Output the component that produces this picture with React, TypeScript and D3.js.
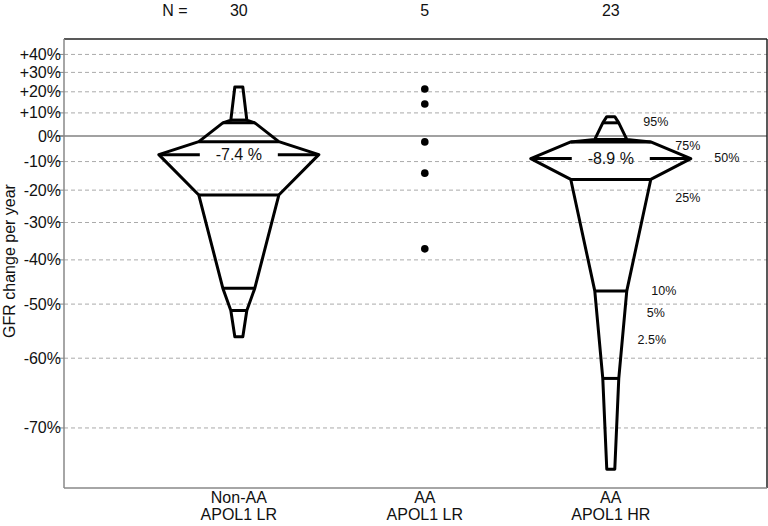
import React from "react";
import * as d3 from "d3";

// ---- data ----
const groupLine1 = ["Non-AA", "AA", "AA"];
const groupLine2 = ["APOL1 LR", "APOL1 LR", "APOL1 HR"];
const groupN = [30, 5, 23];
const quantileLevels = [0.025, 0.05, 0.1, 0.25, 0.5, 0.75, 0.9, 0.95, 0.975];
const nonAAQuantiles = [-56.3, -51.3, -46.6, -21.6, -7.4, -2.3, 5.6, 6.8, 22.4];
const aaHRQuantiles = [-74.7, -63.2, -47.2, -16.4, -8.9, -2.4, -1.4, 5.6, 8.3];
const aaLRPoints = [21.4, 14.1, -2.4, -14.2, -37.2];
const medianLabels = ["-7.4 %", "-8.9 %"];
const yTicks = [40, 30, 20, 10, 0, -10, -20, -30, -40, -50, -60, -70];
const quantileNames = ["95%", "75%", "50%", "25%", "10%", "5%", "2.5%"];
const quantileNameY = [6.0, -4.0, -8.6, -22.7, -47.2, -51.9, -56.9];

// ---- layout ----
const W = 768, H = 526;
const left = 64, right = 767, top = 39, bottom = 488;
const quantileNameDx = [45, 77, 116, 77, 53, 45, 41];

const FONT = "'Liberation Sans', Arial, sans-serif";

export default function App() {
  const y = d3.scaleLog().domain([0.2342, 1.492]).range([bottom, top]);
  const yv = (v: number) => y(1 + v / 100);
  const x = d3.scaleLinear().domain([0.06, 3.84]).range([left, right]);
  const hw = d3.scaleLinear().domain([0, 0.5]).range([0, 80]);

  const shapes = [
    { pos: 1, q: nonAAQuantiles, label: medianLabels[0] },
    { pos: 3, q: aaHRQuantiles, label: medianLabels[1] },
  ];

  const line = d3.line<[number, number]>();

  const tickLabel = (t: number) => (t > 0 ? `+${t}%` : `${t}%`);

  return (
    <svg
      width={W}
      height={H}
      style={{ position: "absolute", left: 0, top: 0, background: "#fff" }}
      fontFamily={FONT}
    >
      <rect x={0} y={0} width={W} height={H} fill="#fff" />
      {/* grid */}
      {yTicks.map((t) => (
        <line
          key={"g" + t}
          x1={t === 0 ? 56 : left}
          x2={right}
          y1={yv(t)}
          y2={yv(t)}
          stroke={t === 0 ? "#444" : "#aaa"}
          strokeWidth={t === 0 ? 1.2 : 1}
          strokeDasharray={t === 0 ? undefined : "4,3"}
        />
      ))}
      {/* ticks */}
      {yTicks.map((t) => (
        <line key={"tk" + t} x1={56} x2={left} y1={yv(t)} y2={yv(t)} stroke="#888" strokeWidth={1} />
      ))}
      {yTicks.map((t) => (
        <text
          key={"tl" + t}
          x={61}
          y={yv(t)}
          textAnchor="end"
          dominantBaseline="central"
          fontSize={16}
          fill="#111"
        >
          {tickLabel(t)}
        </text>
      ))}
      {/* frame */}
      <line x1={left} x2={right} y1={top} y2={top} stroke="#222" strokeWidth={1.5} />
      <line x1={right} x2={right} y1={top} y2={bottom} stroke="#222" strokeWidth={1.5} />
      <line x1={left} x2={left} y1={top} y2={bottom} stroke="#888" strokeWidth={1.5} />
      <line x1={left} x2={right} y1={bottom} y2={bottom} stroke="#888" strokeWidth={1.5} />

      {/* spinning-top shapes */}
      {shapes.map((s, i) => {
        const cx = x(s.pos);
        const rightSide: [number, number][] = s.q.map((v, k) => [
          cx + hw(Math.min(quantileLevels[k], 1 - quantileLevels[k])),
          yv(v),
        ]);
        const leftSide: [number, number][] = s.q
          .map((v, k) => [cx - hw(Math.min(quantileLevels[k], 1 - quantileLevels[k])), yv(v)] as [number, number])
          .reverse();
        const poly = line([...rightSide, ...leftSide]) + "Z";
        return (
          <g key={"s" + i}>
            <path d={poly} fill="none" stroke="#000" strokeWidth={3} strokeLinejoin="round" />
            {s.q.map((v, k) => {
              const p = quantileLevels[k];
              if (p === 0.025 || p === 0.975) return null;
              const w = hw(Math.min(p, 1 - p));
              if (p === 0.5) {
                const gap = 39;
                return (
                  <g key={"m" + k}>
                    <line x1={cx - w} x2={cx - gap} y1={yv(v)} y2={yv(v)} stroke="#000" strokeWidth={3} />
                    <line x1={cx + gap} x2={cx + w} y1={yv(v)} y2={yv(v)} stroke="#000" strokeWidth={3} />
                    <text
                      x={cx}
                      y={yv(v)}
                      textAnchor="middle"
                      dominantBaseline="central"
                      fontSize={16}
                      fill="#111"
                    >
                      {s.label}
                    </text>
                  </g>
                );
              }
              return (
                <line key={"h" + k} x1={cx - w} x2={cx + w} y1={yv(v)} y2={yv(v)} stroke="#000" strokeWidth={3} />
              );
            })}
          </g>
        );
      })}

      {/* AA LR points */}
      {aaLRPoints.map((v, i) => (
        <circle key={"p" + i} cx={x(2)} cy={yv(v)} r={3.8} fill="#000" />
      ))}

      {/* quantile names */}
      {quantileNames.map((n, i) => (
        <text
          key={"qn" + i}
          x={x(3) + quantileNameDx[i]}
          y={yv(quantileNameY[i])}
          textAnchor="middle"
          dominantBaseline="central"
          fontSize={12.5}
          fill="#111"
        >
          {n}
        </text>
      ))}

      {/* N row */}
      <text x={175} y={10} textAnchor="middle" dominantBaseline="central" fontSize={16} fill="#111">
        N =
      </text>
      {groupN.map((n, i) => (
        <text key={"n" + i} x={x(i + 1)} y={10} textAnchor="middle" dominantBaseline="central" fontSize={16} fill="#111">
          {n}
        </text>
      ))}

      {/* x labels */}
      {groupLine1.map((l, i) => (
        <g key={"xl" + i}>
          <text x={x(i + 1)} y={497} textAnchor="middle" dominantBaseline="central" fontSize={16} fill="#111">
            {l}
          </text>
          <text x={x(i + 1)} y={514} textAnchor="middle" dominantBaseline="central" fontSize={16} fill="#111">
            {groupLine2[i]}
          </text>
        </g>
      ))}

      {/* y title */}
      <text
        transform={`translate(9,261) rotate(-90)`}
        textAnchor="middle"
        dominantBaseline="central"
        fontSize={16}
        fill="#111"
      >
        GFR change per year
      </text>
    </svg>
  );
}
